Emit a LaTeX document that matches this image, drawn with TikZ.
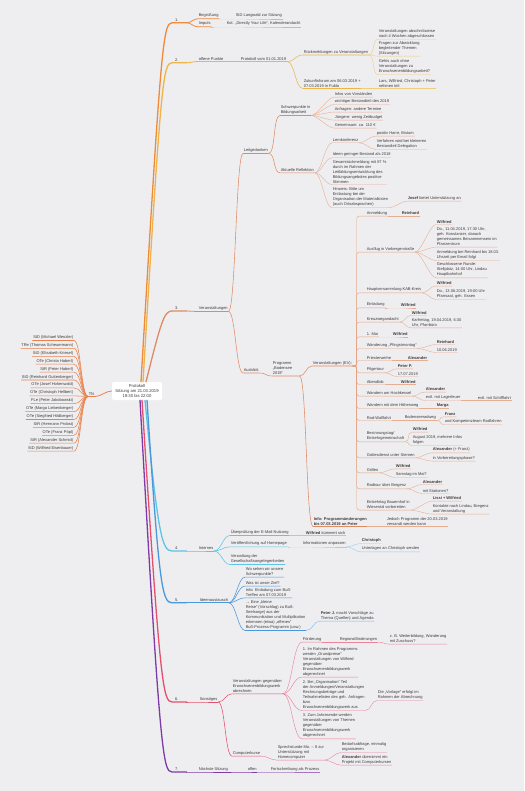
\documentclass[tikz,border=0pt]{standalone}
\usepackage{fontspec}
\setmainfont{Liberation Sans}
\usepackage{tikz}
\usetikzlibrary{calc}
\usepackage{xcolor}
\definecolor{MapBack}{HTML}{EEEEF1}
\definecolor{MapText}{HTML}{3C3C3C}
\definecolor{MapTN}{HTML}{E9824A}
\definecolor{MapOne}{HTML}{EF8A3C}
\definecolor{MapTwo}{HTML}{EDB548}
\definecolor{MapThree}{HTML}{DE8B62}
\definecolor{MapFour}{HTML}{5CC4E6}
\definecolor{MapFive}{HTML}{4B97DC}
\definecolor{MapSix}{HTML}{E2506E}
\definecolor{MapSeven}{HTML}{7E3AA6}

% parent underline end -> child underline start, then child underline
\newcommand\mmlink[4][]{\draw[#1] (#2.south east) .. controls +(#4,0) and +(-#4,0) .. (#3.south west) -- (#3.south east);}
\newcommand\mmspine[4][]{\draw[rounded corners=2.5pt,#1] (#2.south east) -- ++(#4,0) |- (#3.south west) -- (#3.south east);}

\begin{document}
\begin{tikzpicture}[x=1pt,y=-1pt,
  txt/.style={anchor=south west,inner xsep=0.6pt,inner ysep=0.9pt,align=left,text=MapText,font=\fontsize{4}{5}\selectfont},
  num/.style={txt,inner xsep=3pt,text width=8pt},
  rootbox/.style={fill=white,rounded corners=2pt,minimum width=50pt,minimum height=18pt,align=center,text=MapText,font=\fontsize{4.2}{5}\selectfont,inner sep=1pt},
  trunk/.style={line width=1.3pt,line cap=round},
  lone/.style={line width=0.8pt},
  ltwo/.style={line width=0.55pt},
  lthree/.style={line width=0.4pt}]
  \useasboundingbox (0,0) rectangle (524,791);
  \fill[MapBack] (0,0) rectangle (524,791);

  \node[rootbox] (root) at (137,391) {Protokoll\\Sitzung am 21.03.2019\\19:30 bis 22:00};

  % Teilnehmer
  \node[txt] (tn) at (88,396.5) {TN};
  \draw[MapTN,lone] (root.west) .. controls +(-6,0) and +(6,0) .. (tn.south east) -- (tn.south west);
  \foreach \nm [count=\i] in {StD (Michael Wenzler),TRe (Thomas Scheuermann),StD (Elisabeth Kriesel),
      OTe (Christa Haberl),StR (Peter Haberl),StD (Reinhard Guttenberger),OTe (Josef Hohenwald),
      OTe (Christoph Hellbert),FLe (Peter Jakobowski),OTe (Marga Liebenberger),OTe (Siegfried Hildberger),
      StR (Hermann Probst),OTe (Franz Pöpl),StR (Alexander Schmid),StD (Wilfried Eisenbauer)} {
    \node[txt,anchor=south east] (tn\i) at (74,{332.6+7.9*\i}) {\nm};
    \draw[MapTN,ltwo] (tn.south west) .. controls +(-7,0) and +(7,0) .. (tn\i.south east) -- (tn\i.south west);
  }

  % 1.
  \node[num] (b1) at (172,22.8) {1.};
  \node[txt] (b1a) at (198,18.8) {Begrüßung};
  \node[txt] (b1a1) at (235,18.8) {StD Langwald zur Sitzung};
  \node[txt] (b1b) at (198,26.8) {Impuls};
  \node[txt] (b1b1) at (226,26.8) {Kol. „Directly Your Life“, Kalenderandacht};
  \draw[MapOne,trunk] ($(root.north)+(4,0)$) .. controls (161,45) and (163,22.8) .. (b1.south west) -- (b1.south east);
  \mmlink[MapOne,lone]{b1}{b1a}{5}
  \mmlink[MapOne,lone]{b1}{b1b}{5}
  \mmlink[MapOne!70,lthree]{b1a}{b1a1}{8}
  \mmlink[MapOne!70,lthree]{b1b}{b1b1}{6}

  % 2.
  \node[num] (b2) at (172,62.8) {2.};
  \node[txt] (b2a) at (198,61.5) {offene Punkte};
  \node[txt] (b2b) at (240,61.5) {Protokoll vom 01.01.2019};
  \node[txt] (b2c) at (303,55) {Rückmeldungen zu Veranstaltungen};
  \node[txt] (b2c1) at (378,39.3) {Veranstaltungen abschnittweise\\nach 4 Wochen abgeschlossen};
  \node[txt] (b2c2) at (378,56.1) {Fragen zur Abwicklung\\begleitender Themen\\(Sitzungen)};
  \node[txt] (b2c3) at (378,74.8) {Gehts auch ohne\\Veranstaltungen zu\\Erwachsenenbildungsarbeit?};
  \node[txt] (b2d) at (303,88.5) {Zukunftsforum am 06.03.2019 +\\07.03.2019 in Fulda};
  \node[txt] (b2d1) at (378,88.5) {Lars, Wilfried, Christoph + Peter\\nehmen teil};
  \draw[MapTwo,trunk] ($(root.north)+(6,0)$) .. controls (161,80) and (163,62.8) .. (b2.south west) -- (b2.south east);
  \mmlink[MapTwo,lone]{b2}{b2a}{5}
  \mmlink[MapTwo,ltwo]{b2a}{b2b}{6}
  \mmlink[MapTwo,ltwo]{b2b}{b2c}{8}
  \mmlink[MapTwo,ltwo]{b2b}{b2d}{8}
  \mmlink[MapTwo!70,lthree]{b2c}{b2c1}{6}
  \mmlink[MapTwo!70,lthree]{b2c}{b2c2}{6}
  \mmlink[MapTwo!70,lthree]{b2c}{b2c3}{6}
  \mmlink[MapTwo!70,lthree]{b2d}{b2d1}{8}

  % 3.
  \node[num] (b3) at (172,311) {3.};
  \node[txt] (b3a) at (198,311.5) {Veranstaltungen};
  \node[txt] (b3b) at (243,153.5) {Leitgedanken};
  \node[txt] (b3c) at (280,115.5) {Schwerpunkte in\\Bildungsarbeit};
  \node[txt] (b3c1) at (334,97.1) {Infos von Vorständen};
  \node[txt] (b3c2) at (334,104.5) {wichtiger Bestandteil des 2019};
  \node[txt] (b3c3) at (334,112.1) {Anfragen: andere Termine};
  \node[txt] (b3c4) at (334,120.1) {Jüngere: wenig Zeitbudget};
  \node[txt] (b3c5) at (334,128.1) {Gemeinsam: ca. 110 €};
  \node[txt] (b3d) at (280,172.8) {Aktuelle Reflektion};
  \node[txt] (b3d1) at (332,142.8) {Lernkonferenz};
  \node[txt] (b3d11) at (376,136.1) {positiv Harre, Bistum};
  \node[txt] (b3d12) at (376,149.5) {Verfahren wird bei kleineren\\Bestandteil Delegation};
  \node[txt] (b3d2) at (332,157.8) {Ideen geringer Bestand als 2018};
  \node[txt] (b3d3) at (332,184.5) {Gesamtrückmeldung mit 87 \%\\durch im Rahmen der\\Leitbildungsentwicklung des\\Bildungsangebotes positive\\Stimmen};
  \node[txt] (b3d4) at (332,207.8) {Hinweis: Bitte um\\Entlastung bei der\\Organisation der Materialkisten\\(auch Ortsabsprachen)};
  \node[txt] (b3d41) at (407,201.1) {\textbf{Josef} bietet Unterstützung an};
  \node[txt] (b3e) at (243,373) {Ausblick};
  \node[txt,text width=26pt] (b3f) at (272,376) {Programm\\„Bodensee\\2019“};
  \node[txt] (ev) at (312,366) {Veranstaltungen (EV):};
  \node[txt] (info) at (313,526.5) {\textbf{Info: Programmänderungen}\\\textbf{bis 07.03.2019 an Peter}};
  \node[txt] (info1) at (386,526.5) {Jedoch Programm der 20.03.2019\\versandt werden kann};
  \draw[MapThree,trunk] ($(root.north)+(9,0)$) .. controls (161,322) and (164,311) .. (b3.south west) -- (b3.south east);
  \mmlink[MapThree,lone]{b3}{b3a}{5}
  \mmlink[MapThree,ltwo]{b3a}{b3b}{7}
  \mmlink[MapThree,ltwo]{b3a}{b3e}{7}
  \mmlink[MapThree,ltwo]{b3b}{b3c}{7}
  \mmlink[MapThree,ltwo]{b3b}{b3d}{7}
  \foreach \k in {b3c1,b3c2,b3c3,b3c4,b3c5} {\mmlink[MapThree!70,lthree]{b3c}{\k}{6}}
  \foreach \k in {b3d1,b3d2,b3d3,b3d4} {\mmlink[MapThree!70,lthree]{b3d}{\k}{7}}
  \mmlink[MapThree!70,lthree]{b3d1}{b3d11}{7}
  \mmlink[MapThree!70,lthree]{b3d1}{b3d12}{7}
  \mmlink[MapThree!70,lthree]{b3d4}{b3d41}{6}
  \mmlink[MapThree,ltwo]{b3e}{b3f}{7}
  \mmlink[MapThree,ltwo]{b3f}{ev}{6}
  \mmlink[MapThree,ltwo]{b3f}{info}{7}
  \mmlink[MapThree!70,lthree]{info}{info1}{8}

  % Veranstaltungen (EV)
  \node[txt] (e1) at (366,216.1) {Anmeldung};
  \node[txt] (e1a) at (401,216.1) {\textbf{Reinhard}};
  \node[txt] (e2) at (366,252.1) {Ausflug in Vorbergerstraße};
  \node[txt] (e2a) at (436,224.5) {\textbf{Wilfried}};
  \node[txt] (e2b) at (436,247.1) {Do., 11.04.2019, 17:30 Uhr,\\geh. Konstanzer, danach\\gemeinsames Beisammensein im\\Pfarrzentrum};
  \node[txt] (e2c) at (436,260.5) {Anmeldung bei Reinhard bis 18.03.\\Uhrzeit per Email folgt};
  \node[txt] (e2d) at (436,277.8) {Geschlossene Runde:\\Stellplatz, 14:00 Uhr, Lindau\\Hauptbahnhof};
  \node[txt] (e3) at (366,292.8) {Hauptversammlung KAB-Kreis};
  \node[txt] (e3a) at (436,286.1) {\textbf{Wilfried}};
  \node[txt] (e3b) at (436,299.5) {Do., 13.06.2019, 19:00 Uhr\\Pfarrsaal, geh. Essen};
  \node[txt] (e4) at (366,307.8) {Einladung};
  \node[txt] (e4a) at (400,307.8) {\textbf{Wilfried}};
  \node[txt] (e5) at (366,322.1) {Kreuzwegandacht};
  \node[txt] (e5a) at (411,315.5) {\textbf{Wilfried}};
  \node[txt] (e5b) at (411,327.8) {Karfreitag, 19.04.2019, 6:30\\Uhr, Pfarrbüro};
  \node[txt] (e6) at (366,336.8) {1. Mai};
  \node[txt] (e6a) at (392,336.8) {\textbf{Wilfried}};
  \node[txt] (e7) at (366,348.5) {Wanderung „Pfingstmontag“};
  \node[txt] (e7a) at (436,344.5) {\textbf{Reinhard}};
  \node[txt] (e7b) at (436,352.5) {10.06.2019};
  \node[txt] (e8) at (366,360.5) {Priesterweihe};
  \node[txt] (e8a) at (407,360.5) {\textbf{Alexander}};
  \node[txt] (e9) at (366,372.8) {Pilgertour};
  \node[txt] (e9a) at (397,368.8) {\textbf{Peter P.}};
  \node[txt] (e9b) at (397,376.5) {17.07.2019};
  \node[txt] (e10) at (366,384.5) {Abendlob};
  \node[txt] (e10a) at (400,384.5) {\textbf{Wilfried}};
  \node[txt] (e11) at (366,396.1) {Wandern am Hochkessel};
  \node[txt] (e11a) at (425,392.1) {\textbf{Alexander}};
  \node[txt] (e11b) at (425,400.5) {evtl. mit Lagerfeuer};
  \node[txt] (e11c) at (477,400.5) {evtl. mit Schifffahrt};
  \node[txt] (e12) at (366,408.5) {Wandern mit dem Höhenweg};
  \node[txt] (e12a) at (436,408.5) {\textbf{Marga}};
  \node[txt] (e13) at (366,420.5) {Rad-Wallfahrt};
  \node[txt] (e13a) at (404,420.5) {Bodenseeradweg};
  \node[txt] (e13b) at (444,416.8) {\textbf{Franz}};
  \node[txt] (e13c) at (444,424.5) {und Kompetenzteam Radfahren};
  \node[txt] (e14) at (366,441.8) {Besinnungstag/\\Einkehrgemeinschaft};
  \node[txt] (e14a) at (412,432.1) {\textbf{Wilfried}};
  \node[txt] (e14b) at (412,445.5) {August 2019, mehrere Infos\\folgen};
  \node[txt] (e15) at (366,457.8) {Gottesdienst unter Sternen};
  \node[txt] (e15a) at (432,452.8) {\textbf{Alexander} (+ Franz)};
  \node[txt] (e15b) at (432,461.1) {in Vorbereitungsphase?};
  \node[txt] (e16) at (366,472.8) {Grillen};
  \node[txt] (e16a) at (395,468.8) {\textbf{Wilfried}};
  \node[txt] (e16b) at (395,477.5) {Samstag im Mai?};
  \node[txt] (e17) at (366,488.8) {Radtour über Bregenz};
  \node[txt] (e17a) at (422,484.5) {\textbf{Alexander}};
  \node[txt] (e17b) at (422,493.5) {mit Stationen?};
  \node[txt] (e18) at (366,510.1) {Einkehrtag Bauernhof in\\Wiesental vorbereiten};
  \node[txt] (e18a) at (432,501.1) {\textbf{Lissi + Wilfried}};
  \node[txt] (e18b) at (432,514.1) {Kontakte nach Lindau, Bregenz\\und Veranstaltung};
  \foreach \k in {e1,e2,e3,e4,e5,e6,e7,e8,e9,e10,e11,e12,e13,e14,e15,e16,e17,e18} {\mmspine[MapThree!80,lthree]{ev}{\k}{4}}
  \foreach \p/\k in {e1/e1a,e2/e2a,e2/e2b,e2/e2c,e2/e2d,e3/e3a,e3/e3b,e4/e4a,e5/e5a,e5/e5b,e6/e6a,e7/e7a,e7/e7b,
      e8/e8a,e9/e9a,e9/e9b,e10/e10a,e11/e11a,e11/e11b,e11b/e11c,e12/e12a,e13/e13a,e13a/e13b,e13a/e13c,
      e14/e14a,e14/e14b,e15/e15a,e15/e15b,e16/e16a,e16/e16b,e17/e17a,e17/e17b,e18/e18a,e18/e18b}
    {\mmlink[MapThree!70,lthree]{\p}{\k}{6}}

  % 4.
  \node[num] (b4) at (172,551) {4.};
  \node[txt] (b4a) at (198,551) {Internes};
  \node[txt] (b4b) at (230,535.5) {Überprüfung der E-Mail-Nutzung};
  \node[txt] (b4b1) at (305,535.5) {\textbf{Wilfried} kümmert sich};
  \node[txt] (b4c) at (230,546.8) {Veröffentlichung auf Homepage};
  \node[txt] (b4c1) at (302,546.8) {Informationen anpassen};
  \node[txt] (b4c2) at (361,543.5) {\textbf{Christoph}};
  \node[txt] (b4c3) at (361,551.8) {Unterlagen an Christoph senden};
  \node[txt] (b4d) at (230,564.5) {Verwaltung der\\Gesellschaftsangelegenheiten};
  \draw[MapFour,trunk] ($(root.south)+(8,0)$) .. controls (158,535) and (162,551) .. (b4.south west) -- (b4.south east);
  \mmlink[MapFour,lone]{b4}{b4a}{5}
  \foreach \k in {b4b,b4c,b4d} {\mmlink[MapFour,ltwo]{b4a}{\k}{7}}
  \mmlink[MapFour!70,lthree]{b4b}{b4b1}{6}
  \mmlink[MapFour!70,lthree]{b4c}{b4c1}{6}
  \mmlink[MapFour!70,lthree]{b4c1}{b4c2}{6}
  \mmlink[MapFour!70,lthree]{b4c1}{b4c3}{6}

  % 5.
  \node[num] (b5) at (172,602.8) {5.};
  \node[txt] (b5a) at (199,602.8) {Ideenaustausch};
  \node[txt] (b5b) at (245,577.1) {Wo sehen wir unsere\\Schwerpunkte?};
  \node[txt] (b5c) at (245,586.1) {Was ist unser Ziel?};
  \node[txt] (b5d) at (245,597.8) {Info: Einladung zum Buß-\\Treffen am 07.03.2019};
  \node[txt] (b5e) at (245,630.5) {→ Eine „kleine\\Reise“ (Vorschlag) zu Buß-\\Seelsorge) aus der\\Kommunikation und Multiplikation\\erkennen (etwa) „offenes“\\Buß-Prozess-Programm (usw.)};
  \node[txt] (b5e1) at (320,621.1) {\textbf{Peter J.} macht Vorschläge zu\\Thema (Quellen) und Agenda};
  \draw[MapFive,trunk] ($(root.south)+(10,0)$) .. controls (159,585) and (162,602.8) .. (b5.south west) -- (b5.south east);
  \mmlink[MapFive,lone]{b5}{b5a}{5}
  \foreach \k in {b5b,b5c,b5d,b5e} {\mmlink[MapFive,ltwo]{b5a}{\k}{7}}
  \mmlink[MapFive!70,lthree]{b5e}{b5e1}{7}

  % 6.
  \node[num] (b6) at (172,702) {6.};
  \node[txt] (b6a) at (199,702) {Sonstiges};
  \node[txt] (b6b) at (232,693.8) {Veranstaltungen gegenüber\\Erwachsenenbildungswerk\\abrechnen};
  \node[txt] (b6c) at (302,642.1) {Förderung};
  \node[txt] (b6c1) at (339,642.1) {Regionalförderungen};
  \node[txt] (b6c2) at (389,644.1) {z. B. Weiterbildung, Wanderung\\mit Zuschuss?};
  \node[txt] (b6d) at (302,677.1) {1. Im Rahmen des Programms\\werden „Grundpreise“\\Veranstaltungen von Wilfried\\gegenüber\\Erwachsenenbildungswerk\\abgerechnet};
  \node[txt] (b6e) at (302,710.5) {2. Bei „Organisation“ Teil\\der Anmeldungen/Veranstaltungen\\Rechnungsbeträge und\\Teilnahmelisten des geh. Anfragen\\bzw.\\Erwachsenenbildungswerk aus};
  \node[txt] (b6e1) at (377,700.5) {Die „Vorlage“ erfolgt im\\Rahmen der Abrechnung};
  \node[txt] (b6f) at (302,738.8) {3. Zum Jahresende werden\\Veranstaltungen von Themen\\gegenüber\\Erwachsenenbildungswerk\\abgerechnet};
  \node[txt] (b6g) at (232,756.1) {Computerkurse};
  \node[txt] (b6h) at (277,760.1) {Sprechstunde Mo. – 8 zur\\Unterstützung mit\\Homecomputer};
  \node[txt] (b6h1) at (341,752.5) {Bedarfsabfrage, einmalig\\organisieren};
  \node[txt] (b6h2) at (341,765.1) {\textbf{Alexander} übernimmt ein\\Projekt mit Computerkursen};
  \draw[MapSix,trunk] ($(root.south)+(5,0)$) .. controls (160,685) and (163,702) .. (b6.south west) -- (b6.south east);
  \mmlink[MapSix,lone]{b6}{b6a}{5}
  \mmlink[MapSix,ltwo]{b6a}{b6b}{7}
  \mmlink[MapSix,ltwo]{b6a}{b6g}{7}
  \foreach \k in {b6c,b6d,b6e,b6f} {\mmlink[MapSix!75,lthree]{b6b}{\k}{9}}
  \mmlink[MapSix!70,lthree]{b6c}{b6c1}{6}
  \mmlink[MapSix!70,lthree]{b6c1}{b6c2}{6}
  \mmlink[MapSix!70,lthree]{b6e}{b6e1}{6}
  \mmlink[MapSix!75,lthree]{b6g}{b6h}{7}
  \mmlink[MapSix!70,lthree]{b6h}{b6h1}{6}
  \mmlink[MapSix!70,lthree]{b6h}{b6h2}{6}

  % 7.
  \node[num] (b7) at (172,772) {7.};
  \node[txt] (b7a) at (198,772) {Nächste Sitzung};
  \node[txt] (b7b) at (247,772) {offen};
  \node[txt] (b7c) at (270,772) {Fortschreibung als Prozess};
  \draw[MapSeven,trunk] ($(root.south)+(3,0)$) .. controls (160,755) and (163,772) .. (b7.south west) -- (b7.south east);
  \mmlink[MapSeven,lone]{b7}{b7a}{5}
  \mmlink[MapSeven,ltwo]{b7a}{b7b}{6}
  \mmlink[MapSeven!70,lthree]{b7b}{b7c}{6}
\end{tikzpicture}
\end{document}
